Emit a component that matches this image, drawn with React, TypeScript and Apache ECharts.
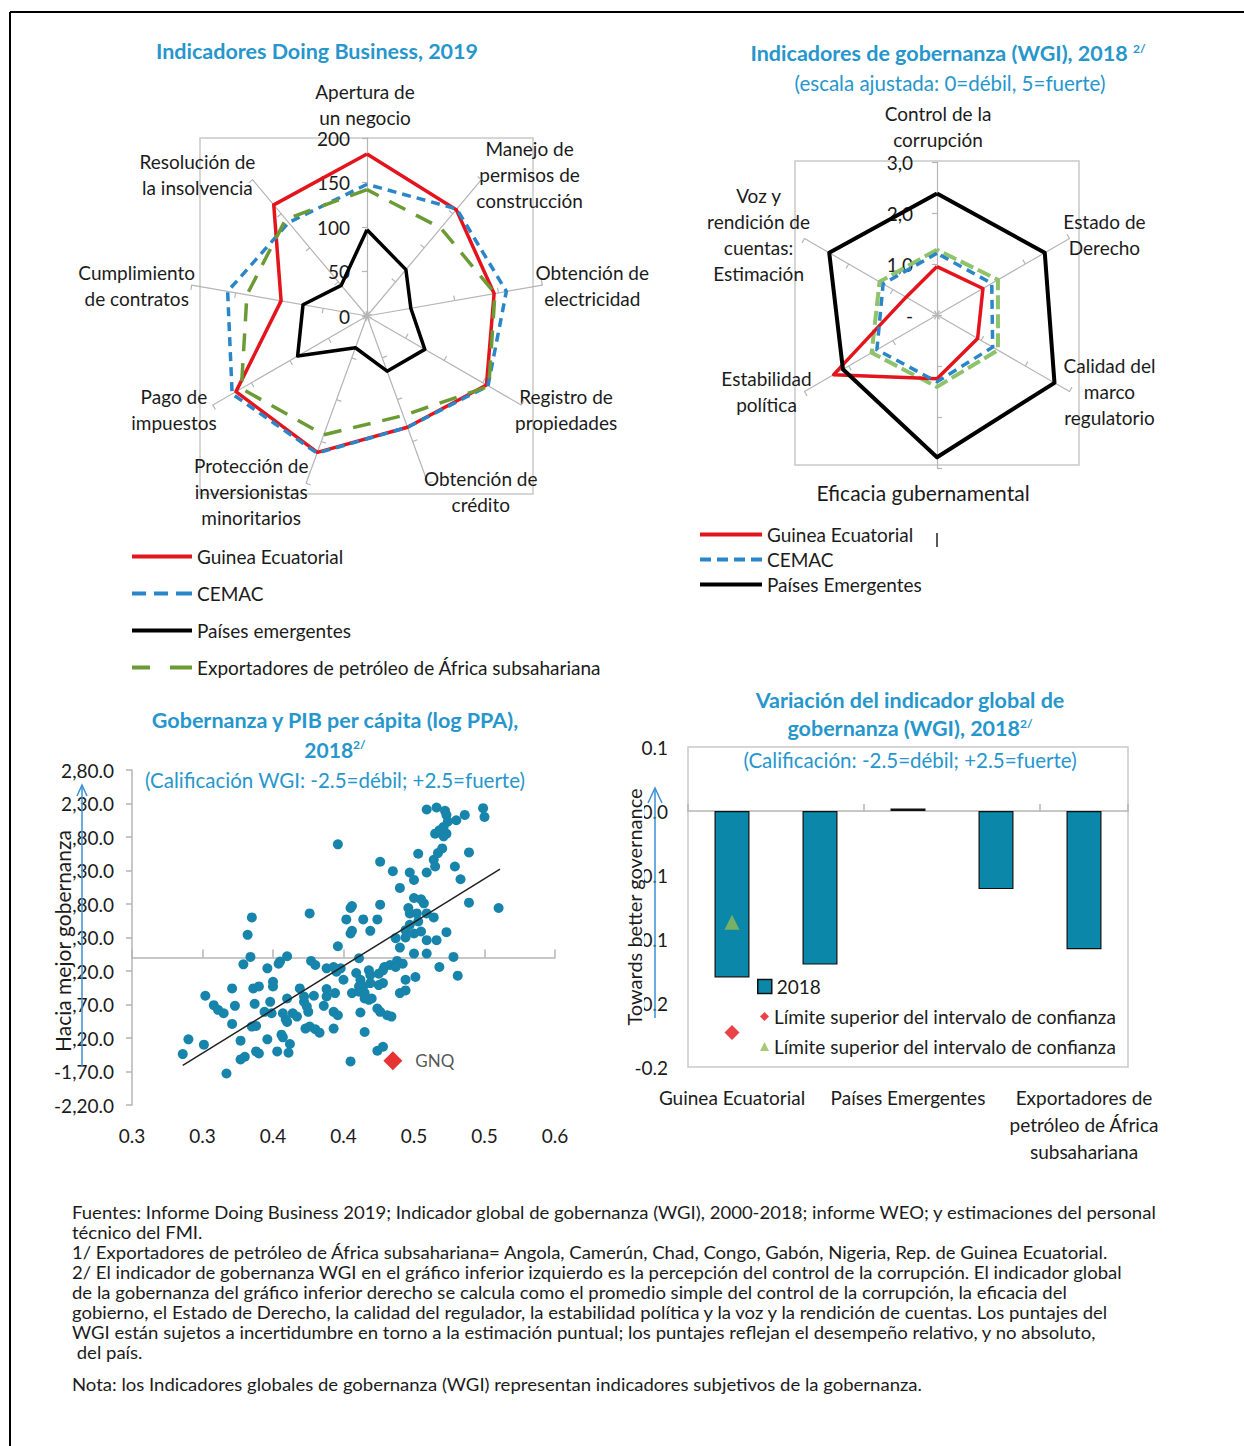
import { useEffect, useRef } from 'react';
import * as echarts from 'echarts';

const FONT = 'Lato, "Open Sans", "DejaVu Sans", sans-serif';
const TEAL = '#2696cc';
const INK = '#1b1b1b';
const RED = '#e3141c';
const BLUE = '#2b86c9';
const GREEN_DB = '#6c9b36';
const GREEN_WGI = '#8ec26b';
const DOT = '#1784ab';
const BAR = '#0b87a9';
const AXIS_GREY = '#b5b5b5';
const BOX_GREY = '#c9c9c9';
const ARROW = '#3a8fd4';

// ---------- Doing Business 2019 (ranking) ----------
const dbIndicators = [
  'Apertura de\nun negocio',
  'Manejo de\npermisos de\nconstrucción',
  'Obtención de\nelectricidad',
  'Registro de\npropiedades',
  'Obtención de\ncrédito',
  'Protección de\ninversionistas\nminoritarios',
  'Pago de\nimpuestos',
  'Cumplimiento\nde contratos',
  'Resolución de\nla insolvencia',
];
const dbTickLabels = ['0', '50', '100', '150', '200'];
const dbGuinea = [182, 156, 145, 155, 133, 163, 170, 98, 163];
const dbCemac = [148, 157, 159, 157, 133, 164, 175, 159, 137];
const dbEmergentes = [97, 68, 50, 75, 66, 38, 90, 73, 45];
const dbExportadores = [142, 129, 146, 158, 119, 142, 163, 137, 142];

// ---------- WGI 2018 (escala ajustada) ----------
const wgiIndicators = [
  'Control de la\ncorrupción',
  'Estado de\nDerecho',
  'Calidad del\nmarco\nregulatorio',
  'Eficacia gubernamental',
  'Estabilidad\npolítica',
  'Voz y\nrendición de\ncuentas:\nEstimación',
];
const wgiTickLabels = ['-', '1,0', '2,0', '3,0'];
const wgiGuinea = [0.95, 1.04, 0.92, 1.25, 2.34, 0.7];
const wgiCemac = [1.21, 1.24, 1.26, 1.31, 1.36, 1.22];
const wgiEmergentes = [2.38, 2.44, 2.66, 2.79, 2.13, 2.44];
const wgiExportadores = [1.28, 1.38, 1.38, 1.41, 1.48, 1.3];

// ---------- Gobernanza vs PIB per cápita ----------
const scatterPoints: [number, number][] = [
  [0.509, 2.21], [0.516, 2.24], [0.522, 2.19], [0.523, 2.13], [0.530, 2.05], [0.536, 2.13], [0.549, 2.23], [0.550, 2.10], [0.524, 2.03], [0.521, 1.95],
  [0.518, 1.90], [0.515, 1.85], [0.523, 1.85], [0.521, 1.81], [0.446, 1.69], [0.520, 1.63], [0.517, 1.56], [0.514, 1.46], [0.539, 1.57], [0.503, 1.55],
  [0.476, 1.43], [0.515, 1.36], [0.529, 1.36], [0.485, 1.29], [0.497, 1.27], [0.509, 1.27], [0.500, 1.16], [0.533, 1.17], [0.490, 1.04], [0.500, 0.89],
  [0.505, 0.87], [0.507, 0.81], [0.539, 0.82], [0.560, 0.74], [0.476, 0.79], [0.456, 0.77], [0.455, 0.74], [0.426, 0.66], [0.496, 0.74], [0.497, 0.66],
  [0.502, 0.66], [0.509, 0.66], [0.514, 0.60], [0.503, 0.54], [0.497, 0.49], [0.494, 0.41], [0.500, 0.36], [0.505, 0.39], [0.523, 0.38], [0.452, 0.57],
  [0.464, 0.57], [0.474, 0.57], [0.456, 0.40], [0.455, 0.36], [0.469, 0.40], [0.385, 0.60], [0.382, 0.34], [0.487, 0.29], [0.494, 0.30], [0.509, 0.26],
  [0.516, 0.26], [0.446, 0.17], [0.490, 0.15], [0.500, 0.06], [0.509, 0.06], [0.528, 0.01], [0.384, 0.01], [0.379, -0.10], [0.405, -0.06], [0.410, 0.02],
  [0.404, -0.09], [0.427, -0.05], [0.430, -0.11], [0.461, -0.01], [0.488, -0.05], [0.492, -0.09], [0.518, -0.14], [0.531, -0.27], [0.396, -0.16], [0.438, -0.16],
  [0.443, -0.14], [0.448, -0.16], [0.445, -0.21], [0.479, -0.14], [0.483, -0.11], [0.487, -0.14], [0.478, -0.19], [0.450, -0.33], [0.459, -0.23], [0.462, -0.33],
  [0.468, -0.19], [0.475, -0.24], [0.469, -0.26], [0.494, -0.33], [0.501, -0.29], [0.400, -0.36], [0.400, -0.43], [0.371, -0.46], [0.386, -0.46], [0.390, -0.43],
  [0.419, -0.46], [0.438, -0.47], [0.461, -0.43], [0.464, -0.43], [0.469, -0.38], [0.478, -0.38], [0.475, -0.41], [0.352, -0.57], [0.422, -0.58], [0.429, -0.57],
  [0.438, -0.58], [0.444, -0.53], [0.456, -0.53], [0.461, -0.51], [0.465, -0.53], [0.490, -0.53], [0.494, -0.49], [0.358, -0.71], [0.361, -0.78], [0.365, -0.83],
  [0.373, -0.72], [0.387, -0.69], [0.398, -0.66], [0.410, -0.61], [0.422, -0.66], [0.424, -0.73], [0.436, -0.72], [0.468, -0.63], [0.470, -0.61], [0.465, -0.61],
  [0.394, -0.81], [0.399, -0.83], [0.407, -0.83], [0.414, -0.83], [0.425, -0.81], [0.443, -0.81], [0.446, -0.86], [0.462, -0.82], [0.476, -0.81], [0.481, -0.86],
  [0.484, -0.88], [0.474, -0.76], [0.371, -0.99], [0.385, -1.03], [0.388, -1.02], [0.409, -0.92], [0.410, -0.96], [0.417, -0.88], [0.423, -1.06], [0.426, -1.03],
  [0.430, -1.07], [0.433, -1.12], [0.443, -1.06], [0.465, -1.11], [0.396, -1.22], [0.406, -1.15], [0.407, -1.19], [0.377, -1.24], [0.340, -1.22], [0.351, -1.30],
  [0.412, -1.29], [0.474, -1.39], [0.478, -1.33], [0.336, -1.44], [0.377, -1.52], [0.380, -1.48], [0.388, -1.40], [0.390, -1.43], [0.403, -1.40], [0.411, -1.42],
  [0.455, -1.55], [0.367, -1.73],
];
const gnqPoint: [number, number] = [0.485, -1.54];
const trendLine: [number, number][] = [[0.336, -1.61], [0.561, 1.32]];
const scatterXTickLabels = ['0.3', '0.3', '0.4', '0.4', '0.5', '0.5', '0.6'];
const scatterYTickLabels = ['-2,20.0', '-1,70.0', '-1,20.0', '-0,70.0', '-0,20.0', '0,30.0', '0,80.0', '1,30.0', '1,80.0', '2,30.0', '2,80.0'];

// ---------- Variación del indicador global WGI ----------
const barCategories = ['Guinea Ecuatorial', 'CEMAC', 'Países Emergentes', 'África subsahariana', 'Exportadores de\npetróleo de África\nsubsahariana'];
const barValues = [-0.130, -0.120, 0.002, -0.061, -0.108];
const ciUpperRed = [-0.173, '-', '-', '-', '-'];
const ciUpperGreen = [-0.087, '-', '-', '-', '-'];
const barYTickLabels = ['-0.2', '-0.2', '-0.1', '-0.1', '0.0', '0.1'];

const footnotes = [
  'Fuentes: Informe Doing Business 2019; Indicador global de gobernanza (WGI), 2000-2018; informe WEO; y estimaciones del personal',
  'técnico del FMI.',
  '1/ Exportadores de petróleo de África subsahariana= Angola, Camerún, Chad, Congo, Gabón, Nigeria, Rep. de Guinea Ecuatorial.',
  '2/ El indicador de gobernanza WGI en el gráfico inferior izquierdo es la percepción del control de la corrupción. El indicador global',
  'de la gobernanza del gráfico inferior derecho se calcula como el promedio simple del control de la corrupción, la eficacia del',
  'gobierno, el Estado de Derecho, la calidad del regulador, la estabilidad política y la voz y la rendición de cuentas. Los puntajes del',
  'WGI están sujetos a incertidumbre en torno a la estimación puntual; los puntajes reflejan el desempeño relativo, y no absoluto,',
  ' del país.',
  'Nota: los Indicadores globales de gobernanza (WGI) representan indicadores subjetivos de la gobernanza.',
];

const N_GNQ = 'Guinea Ecuatorial';
const N_CEMAC = 'CEMAC';
const N_EM_LOW = 'Países emergentes';
const N_EM_UP = 'Países Emergentes';
const N_EXP = 'Exportadores de petróleo de África subsahariana';
const N_BAR = '2018';
const N_CI1 = 'Límite superior del intervalo de confianza';
const N_CI2 = 'Límite superior del intervalo de confianza ';

// ---------- layout helpers (styles, not data): [horizontal shift, name gap] ----------
const dbNameLayout = [[-2, 34], [44, 6.5], [50, 0], [38, 8], [50, 8.5], [-52, 8.5], [-32, 8], [-55, 0], [-51, 6.5]];
const wgiNameLayout = [[1, 36], [28, 8], [40, 0], [-14, 24], [-38, 0], [-39, 8]];
const wgiNameSize = [19, 19, 19, 21, 19, 19];
const dbNameSize = [19, 19, 19, 19, 19, 19, 19, 19, 19];

function ccw<T>(a: T[]): T[] {
  return [a[0], ...a.slice(1).reverse()];
}
function hPad(dx: number) {
  return [0, Math.max(0, -2 * dx), 0, Math.max(0, 2 * dx)];
}

const tickText = { color: INK, fontSize: 19, fontFamily: FONT };

function radarComponent(center: number[], radius: number, names: string[], layout: number[][], sizes: number[], max: number, split: number, tickLabels: string[], labelMargin: number) {
  const step = max / split;
  const ind = names.map((name, i) => {
    const o: any = {
      name,
      min: 0,
      max,
      nameGap: layout[i][1],
      nameMoveOverlap: false,
      nameTextStyle: { align: 'center', verticalAlign: 'middle', padding: hPad(layout[i][0]), fontSize: sizes[i] },
    };
    if (i === 0) {
      o.axisLabel = {
        show: true,
        ...tickText,
        margin: labelMargin,
        formatter: (v: number) => tickLabels[Math.round(v / step)] ?? '',
      };
    }
    return o;
  });
  return {
    center,
    radius,
    startAngle: 90,
    shape: 'polygon',
    splitNumber: split,
    indicator: ccw(ind),
    axisName: { color: INK, fontSize: 19, fontFamily: FONT, lineHeight: 26 },
    axisNameGap: 0,
    axisLine: { lineStyle: { color: AXIS_GREY, width: 1.2 } },
    axisTick: { show: true, length: 5, lineStyle: { color: AXIS_GREY, width: 1.2 } },
    axisLabel: { show: false },
    splitLine: { show: false },
    splitArea: { show: false },
  };
}

function radarItem(name: string, values: number[], color: string, width: number, dash?: number[]) {
  return {
    name,
    value: ccw(values),
    symbol: 'none',
    lineStyle: { color, width, type: dash ?? 'solid' },
    itemStyle: { color },
  };
}

const ICON_SOLID = 'path://M0,0H60V4H0Z';
const ICON_DASH_BLUE = 'path://M0,0H14V4H0ZM22,0H36V4H22ZM44,0H60V4H44Z';
const ICON_DASH_GREEN = 'path://M0,0H18V4H0ZM38,0H60V4H38Z';
const ICON_DASH_BLUE2 = 'path://M0,0H11V4H0ZM17,0H28V4H17ZM34,0H45V4H34ZM51,0H62V4H51Z';

const legendText = { color: INK, fontSize: 19, fontFamily: FONT };

function txt(x: number, y: number, text: string, size: number, bold: boolean, color = TEAL, align = 'center', extra: any = {}) {
  const { scaleX, rotation, ...styleExtra } = extra;
  const el: any = {
    type: 'text',
    x,
    y,
    z: 50,
    silent: true,
    style: {
      text,
      fill: color,
      fontSize: size,
      fontWeight: bold ? 'bold' : 'normal',
      fontFamily: FONT,
      align,
      verticalAlign: 'middle',
      rich: { sup: { fontSize: 12, fontWeight: 'bold', fill: color, fontFamily: FONT, verticalAlign: 'top' } },
      ...styleExtra,
    },
  };
  if (scaleX != null) el.scaleX = scaleX;
  if (rotation != null) el.rotation = rotation;
  return el;
}

function buildOption(): any {
  const sxMin = 0.3, sxStep = 0.05;
  const syMin = -2.2, syStep = 0.5;
  const byMin = -0.2, byStep = 0.05;

  const graphic: any[] = [
    { type: 'line', z: 60, silent: true, shape: { x1: 10, y1: 12, x2: 1244, y2: 12 }, style: { stroke: '#000', lineWidth: 2 } },
    { type: 'line', z: 60, silent: true, shape: { x1: 10, y1: 12, x2: 10, y2: 1446 }, style: { stroke: '#000', lineWidth: 2 } },
    { type: 'rect', z: 0, silent: true, shape: { x: 200, y: 138, width: 333, height: 356 }, style: { fill: 'none', stroke: BOX_GREY, lineWidth: 1.5 } },
    { type: 'rect', z: 0, silent: true, shape: { x: 795, y: 161, width: 284, height: 304 }, style: { fill: 'none', stroke: BOX_GREY, lineWidth: 1.5 } },
    txt(317, 51, 'Indicadores Doing Business, 2019', 21.5, true),
    txt(948, 53, 'Indicadores de gobernanza (WGI), 2018 {sup|2/}', 21.5, true),
    txt(950, 83, '(escala ajustada: 0=débil, 5=fuerte)', 20.5, false),
    txt(335, 720, 'Gobernanza y PIB per cápita (log PPA),', 21.5, true),
    txt(335, 749, '2018{sup|2/}', 21, true),
    txt(335, 780, '(Calificación WGI: -2.5=débil; +2.5=fuerte)', 20.5, false),
    txt(910, 700, 'Variación del indicador global de', 21.5, true),
    txt(910, 728, 'gobernanza (WGI), 2018{sup|2/}', 21.5, true),
    txt(910, 760, '(Calificación: -2.5=débil; +2.5=fuerte)', 20.5, false),
    // vertical axis titles (drawn over the tick labels, as in the original)
    txt(62, 941, 'Hacia mejor gobernanza', 21, false, INK, 'center', { rotation: Math.PI / 2, backgroundColor: '#fff', padding: [0, 2] }),
    txt(634, 907, 'Towards better governance', 20, false, INK, 'center', { rotation: Math.PI / 2, backgroundColor: '#fff', padding: [0, 2] }),
    // arrows
    { type: 'polyline', z: 100, silent: true, shape: { points: [[82, 1067], [82, 786]] }, style: { stroke: ARROW, lineWidth: 1.5, fill: 'none' } },
    { type: 'polyline', z: 100, silent: true, shape: { points: [[77, 796], [82, 785], [87, 796]] }, style: { stroke: ARROW, lineWidth: 1.5, fill: 'none' } },
    { type: 'polyline', z: 100, silent: true, shape: { points: [[655, 1018], [655, 789]] }, style: { stroke: ARROW, lineWidth: 1.5, fill: 'none' } },
    { type: 'polyline', z: 100, silent: true, shape: { points: [[648, 803], [655, 788], [662, 803]] }, style: { stroke: ARROW, lineWidth: 1.5, fill: 'none' } },
    { type: 'line', z: 60, silent: true, shape: { x1: 937, y1: 533, x2: 937, y2: 547 }, style: { stroke: '#222', lineWidth: 1.5 } },
  ];
  const noteY = [1213, 1233, 1253, 1273, 1293, 1313, 1333, 1353, 1385];
  footnotes.forEach((line, i) => {
    graphic.push(txt(72, noteY[i], line, 16.4, false, INK, 'left', { scaleX: 1.13 }));
  });

  return {
    animation: false,
    textStyle: { fontFamily: FONT },
    radar: [
      radarComponent([367, 316], 178, dbIndicators, dbNameLayout, dbNameSize, 200, 4, dbTickLabels, 17),
      radarComponent([937, 315], 153, wgiIndicators, wgiNameLayout, wgiNameSize, 3, 3, wgiTickLabels, 24),
    ],
    legend: [
      {
        orient: 'vertical', left: 132, top: 547, padding: 0, itemWidth: 60, itemHeight: 4, itemGap: 18,
        selectedMode: false, textStyle: legendText, itemStyle: { borderWidth: 0 },
        data: [
          { name: N_GNQ, icon: ICON_SOLID, itemStyle: { color: RED, borderWidth: 0 } },
          { name: N_CEMAC, icon: ICON_DASH_BLUE, itemStyle: { color: BLUE, borderWidth: 0 } },
          { name: N_EM_LOW, icon: ICON_SOLID, itemStyle: { color: '#000', borderWidth: 0 } },
          { name: N_EXP, icon: ICON_DASH_GREEN, itemStyle: { color: GREEN_DB, borderWidth: 0 } },
        ],
      },
      {
        orient: 'vertical', left: 700, top: 525, padding: 0, itemWidth: 62, itemHeight: 4, itemGap: 6,
        selectedMode: false, textStyle: legendText, itemStyle: { borderWidth: 0 },
        data: [
          { name: N_GNQ, icon: 'path://M0,0H62V4H0Z', itemStyle: { color: RED, borderWidth: 0 } },
          { name: N_CEMAC, icon: ICON_DASH_BLUE2, itemStyle: { color: BLUE, borderWidth: 0 } },
          { name: N_EM_UP, icon: 'path://M0,0H62V4H0Z', itemStyle: { color: '#000', borderWidth: 0 } },
        ],
      },
      {
        orient: 'vertical', left: 757, top: 977, padding: 0, itemWidth: 14, itemHeight: 14,
        selectedMode: false, textStyle: legendText,
        data: [{ name: N_BAR, icon: 'rect', itemStyle: { color: BAR, borderColor: '#111', borderWidth: 1.5 } }],
      },
      {
        orient: 'vertical', left: 760, top: 1007, padding: 0, itemWidth: 9, itemHeight: 9, itemGap: 11,
        selectedMode: false, textStyle: legendText,
        formatter: (n: string) => n.trim(),
        data: [
          { name: N_CI1, icon: 'diamond', itemStyle: { color: RED, borderWidth: 0 } },
          { name: N_CI2, icon: 'triangle', itemStyle: { color: '#94bb55', borderWidth: 0 } },
        ],
      },
    ],
    grid: [
      { left: 132, top: 770, width: 423, height: 335, show: false },
      { left: 688, top: 747, width: 440, height: 320, show: true, borderColor: BOX_GREY, borderWidth: 1.5, backgroundColor: 'transparent' },
    ],
    xAxis: [
      {
        gridIndex: 0, type: 'value', min: 0.3, max: 0.6, interval: sxStep, position: 'bottom',
        axisLine: { show: false, onZero: false }, axisTick: { show: false }, splitLine: { show: false },
        axisLabel: { ...tickText, margin: 21, formatter: (v: number) => scatterXTickLabels[Math.round((v - sxMin) / sxStep)] ?? '' },
      },
      {
        gridIndex: 0, type: 'value', min: 0.3, max: 0.6, interval: sxStep, position: 'bottom',
        axisLine: { show: true, onZero: true, lineStyle: { color: AXIS_GREY, width: 1.5 } },
        axisTick: { show: true, inside: true, length: 8, lineStyle: { color: AXIS_GREY, width: 1.5 } },
        axisLabel: { show: false }, splitLine: { show: false },
      },
      {
        gridIndex: 1, type: 'category', data: barCategories, position: 'bottom',
        axisLine: { show: false, onZero: false }, axisTick: { show: false },
        axisLabel: { ...tickText, interval: 1, margin: 17, lineHeight: 27 },
      },
      {
        gridIndex: 1, type: 'category', data: barCategories, position: 'bottom',
        axisLine: { show: true, onZero: true, lineStyle: { color: AXIS_GREY, width: 1.5 } },
        axisTick: { show: true, inside: true, length: 7, lineStyle: { color: AXIS_GREY, width: 1.5 } },
        axisLabel: { show: false },
      },
    ],
    yAxis: [
      {
        gridIndex: 0, type: 'value', min: syMin, max: 2.8, interval: syStep,
        axisLine: { show: true, onZero: false, lineStyle: { color: AXIS_GREY, width: 1.5 } },
        axisTick: { show: true, length: 6, lineStyle: { color: AXIS_GREY, width: 1.5 } },
        splitLine: { show: false },
        axisLabel: { ...tickText, margin: 18, formatter: (v: number) => scatterYTickLabels[Math.round((v - syMin) / syStep)] ?? '' },
      },
      {
        gridIndex: 1, type: 'value', min: byMin, max: 0.05, interval: byStep,
        axisLine: { show: false }, axisTick: { show: false }, splitLine: { show: false },
        axisLabel: { ...tickText, margin: 20, formatter: (v: number) => barYTickLabels[Math.round((v - byMin) / byStep)] ?? '' },
      },
    ],
    series: [
      {
        type: 'radar', radarIndex: 0, symbol: 'none', silent: true,
        data: [
          radarItem(N_GNQ, dbGuinea, RED, 3.5),
          radarItem(N_CEMAC, dbCemac, BLUE, 3.5, [9, 6]),
          radarItem(N_EM_LOW, dbEmergentes, '#000', 3.5),
          radarItem(N_EXP, dbExportadores, GREEN_DB, 3.5, [18, 12]),
        ],
      },
      {
        type: 'radar', radarIndex: 1, symbol: 'none', silent: true,
        data: [
          radarItem(N_EXP, wgiExportadores, GREEN_WGI, 4, [14, 5]),
          radarItem(N_GNQ, wgiGuinea, RED, 3.5),
          radarItem(N_CEMAC, wgiCemac, BLUE, 3.5, [9, 6]),
          radarItem(N_EM_UP, wgiEmergentes, '#000', 4),
        ],
      },
      {
        type: 'scatter', name: 'Países', xAxisIndex: 0, yAxisIndex: 0, symbolSize: 10, silent: true,
        itemStyle: { color: DOT, opacity: 1 }, data: scatterPoints,
      },
      {
        type: 'line', name: 'Tendencia', xAxisIndex: 0, yAxisIndex: 0, symbol: 'none', silent: true,
        lineStyle: { color: '#222', width: 1.5 }, data: trendLine, z: 3,
      },
      {
        type: 'scatter', name: 'GNQ', xAxisIndex: 0, yAxisIndex: 0, symbol: 'diamond', symbolSize: 19, silent: true, z: 4,
        itemStyle: { color: '#e00000' }, data: [gnqPoint],
        label: { show: true, formatter: 'GNQ', position: 'right', distance: 13, color: '#2a2a2a', fontSize: 17, fontFamily: FONT },
      },
      {
        type: 'bar', name: N_BAR, xAxisIndex: 2, yAxisIndex: 1, barWidth: 35, silent: true,
        itemStyle: { color: BAR, borderColor: '#111', borderWidth: 1.2 }, data: barValues,
      },
      {
        type: 'scatter', name: N_CI1, xAxisIndex: 2, yAxisIndex: 1, symbol: 'diamond', symbolSize: 15, silent: true, z: 5,
        itemStyle: { color: RED }, data: ciUpperRed,
      },
      {
        type: 'scatter', name: N_CI2, xAxisIndex: 2, yAxisIndex: 1, symbol: 'triangle', symbolSize: 15, silent: true, z: 5,
        itemStyle: { color: '#94bb55' }, data: ciUpperGreen,
      },
    ],
    graphic,
  };
}

export default function App() {
  const ref = useRef<HTMLDivElement>(null);
  useEffect(() => {
    if (!ref.current) return;
    const chart = echarts.init(ref.current, undefined, { renderer: 'svg' });
    chart.setOption(buildOption());
    return () => chart.dispose();
  }, []);
  return (
    <div
      ref={ref}
      style={{ position: 'absolute', left: 0, top: 0, width: 1244, height: 1446, background: '#fff' }}
    />
  );
}
